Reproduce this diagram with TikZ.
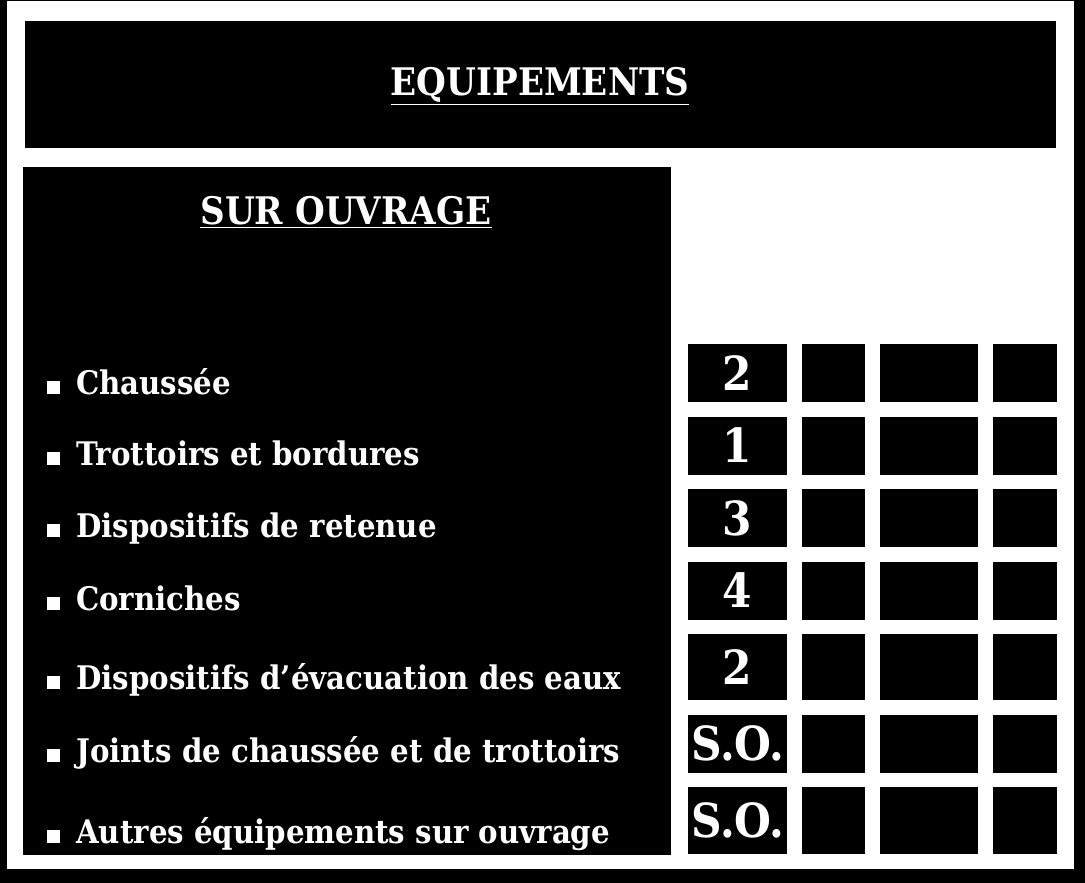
\documentclass[tikz,border=0pt]{standalone}
\usepackage{fontspec}
\setmainfont{DejaVu Serif Condensed}
\usetikzlibrary{matrix,positioning}

\begin{document}
\begin{tikzpicture}[x=1pt, y=-1pt,
    titre/.style={text=white, inner sep=0pt, font=\bfseries\fontsize{38}{44}\selectfont},
    item/.style={text=white, inner sep=0pt, anchor=base west, font=\bfseries\fontsize{32.5}{38}\selectfont},
    puce/.style={fill=white, inner sep=0pt, minimum size=13pt},
    2d-grid/.style={matrix of nodes, nodes in empty cells, inner sep=0pt, outer sep=0pt,
      row sep=14.5pt, column sep=15pt,
      nodes={fill=black, text=white, inner sep=0pt, minimum height=58pt, anchor=center,
             font=\bfseries\fontsize{47}{50}\selectfont}}
  ]
\useasboundingbox (0,0) rectangle (1085,883);

% Background and white sheet
\fill[black] (0,0) rectangle (1085,883);
\fill[white] (7,1) rectangle (1074,869);

% Title band
\fill[black] (25,21) rectangle (1056,148);
\node[titre] (title) at (540,86) {\underline{EQUIPEMENTS}};

% Left box with the list
\fill[black] (23,167) rectangle (671,855);
\node[titre] (sub) at (346,212) {\underline{SUR OUVRAGE}};

\foreach \b/\txt [count=\i] in {394/Chaussée, 465/Trottoirs et bordures, 537/Dispositifs de retenue,
    610/Corniches, 689/Dispositifs d'évacuation des eaux, 762/Joints de chaussée et de trottoirs,
    843/Autres équipements sur ouvrage} {
  \node[item] (item-\i) at (76,\b) {\txt};
  \node[puce, left=16pt of item-\i.base west, anchor=south east] (puce-\i) {};
}

% Grid of marks
\matrix (notes) [2d-grid, anchor=north west,
    column 1/.style={nodes={minimum width=99pt}},
    column 2/.style={nodes={minimum width=63pt}},
    column 3/.style={nodes={minimum width=98pt}},
    column 4/.style={nodes={minimum width=64pt}},
    row 5/.style={nodes={minimum height=66pt}},
    row 7/.style={nodes={minimum height=67pt}}] at (688,344) {
2 & & & \\
1 & & & \\
3 & & & \\
4 & & & \\
2 & & & \\
S.O. & & & \\
S.O. & & & \\
};

\end{tikzpicture}
\end{document}
